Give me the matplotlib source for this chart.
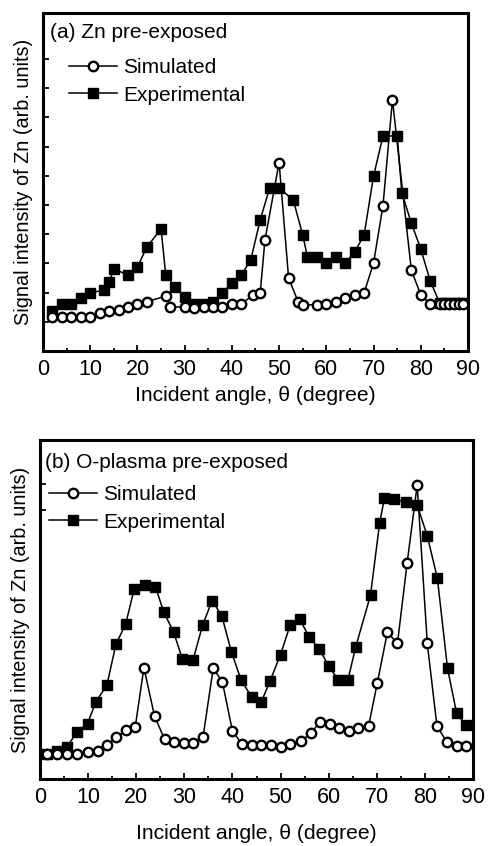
import matplotlib
matplotlib.use("Agg")
import matplotlib.pyplot as plt
from matplotlib.ticker import MultipleLocator, NullFormatter

plt.rcParams['font.family'] = ['Liberation Sans', 'DejaVu Sans']

# (a) Zn pre-exposed
sim_a_x = [2, 4, 6, 8, 10, 12, 14, 16, 18, 20, 22, 26, 27, 30, 32, 34, 36, 38, 40, 42,
           44.5, 46, 47, 50, 52, 54, 55, 58, 60, 62, 64, 66, 68, 70, 72, 74, 78, 80, 82,
           84, 85, 86, 87, 88, 89]
sim_a_y = [1.17, 1.17, 1.17, 1.17, 1.17, 1.29, 1.38, 1.40, 1.51, 1.61, 1.69, 1.88, 1.51,
           1.51, 1.47, 1.51, 1.52, 1.52, 1.61, 1.61, 1.92, 1.99, 3.80, 6.45, 2.51, 1.69,
           1.58, 1.58, 1.61, 1.69, 1.82, 1.92, 1.99, 3.01, 4.98, 8.60, 2.77, 1.92, 1.61,
           1.61, 1.61, 1.61, 1.61, 1.61, 1.61]
exp_a_x = [2, 4, 6, 8, 10, 13, 14, 15, 18, 20, 22, 25, 26, 28, 30, 32, 34, 36, 38, 40,
           42, 44, 46, 48, 50, 53, 55, 56, 58, 60, 62, 64, 66, 68, 70, 72, 75, 76, 78,
           80, 82, 84, 85, 86, 87, 88, 89]
exp_a_y = [1.38, 1.61, 1.61, 1.82, 1.99, 2.09, 2.36, 2.81, 2.60, 2.88, 3.56, 4.18, 2.60,
           2.19, 1.85, 1.61, 1.61, 1.68, 1.99, 2.33, 2.60, 3.12, 4.49, 5.58, 5.58, 5.17,
           3.97, 3.22, 3.22, 3.01, 3.22, 3.01, 3.39, 3.97, 5.99, 7.36, 7.36, 5.41, 4.38,
           3.49, 2.40, 1.64, 1.64, 1.64, 1.64, 1.64, 1.64]

# (b) O-plasma pre-exposed
sim_b_x = [1.5, 3.6, 5.6, 7.7, 9.9, 12, 13.9, 15.9, 17.9, 19.8, 21.6, 23.8, 25.9, 27.8,
           29.9, 31.9, 33.9, 36, 37.9, 40, 42, 44, 46, 48, 50, 52, 54.2, 56.3, 58.1, 60.2,
           62.1, 64.2, 66.2, 68.3, 70.1, 72.2, 74.3, 76.3, 78.4, 80.5, 82.5, 84.6, 86.6,
           88.5]
sim_b_y = [0.30, 0.30, 0.30, 0.32, 0.38, 0.41, 0.60, 0.86, 1.10, 1.21, 3.18, 1.57, 0.79,
           0.71, 0.68, 0.68, 0.88, 3.16, 2.71, 1.07, 0.63, 0.60, 0.60, 0.60, 0.54, 0.63,
           0.73, 0.99, 1.36, 1.32, 1.16, 1.07, 1.16, 1.24, 2.66, 4.36, 3.99, 6.66, 9.27,
           3.99, 1.24, 0.69, 0.58, 0.58]
exp_b_x = [1.5, 3.6, 5.6, 7.7, 9.9, 11.6, 13.9, 15.8, 17.8, 19.6, 21.9, 24, 25.7, 27.8,
           29.6, 31.8, 33.8, 35.8, 37.8, 39.8, 41.8, 44, 46, 47.8, 50, 52, 54, 56, 58, 60,
           62, 64, 65.6, 68.7, 70.6, 71.6, 73.6, 76, 78.4, 80.5, 82.6, 84.7, 86.6, 88.5]
exp_b_y = [0.32, 0.41, 0.54, 1.04, 1.32, 2.04, 2.60, 3.97, 4.63, 5.82, 5.93, 5.88, 5.04,
           4.36, 3.46, 3.43, 4.60, 5.42, 4.90, 3.70, 2.77, 2.20, 2.04, 2.73, 3.62, 4.60,
           4.79, 4.19, 3.82, 3.24, 2.77, 2.77, 3.86, 5.60, 8.01, 8.84, 8.79, 8.71, 8.60,
           7.57, 6.16, 3.16, 1.66, 1.27]

W, H = 489, 846
# title, data, axes box in pixels (left, top, right, bottom), y-limits, y ticks,
# title y (px below top), legend x, x-label pad
panels = [
    ("(a) Zn pre-exposed", sim_a_x, sim_a_y, exp_a_x, exp_a_y,
     (43, 13, 468, 351), (0, 11.57), range(1, 11), 19, 0.016, 0.061, 4),
    ("(b) O-plasma pre-exposed", sim_b_x, sim_b_y, exp_b_x, exp_b_y,
     (40, 440, 473, 779), (-0.53, 10.77), [8.45, 9.3], 22, 0.012, 0.021, 11),
]

fig = plt.figure(figsize=(W / 100, H / 100), dpi=100)

for title, sx, sy, ex, ey, box, ylim, yt, ty, tx, lx, xpad in panels:
    l, t, r, b = box
    ph = b - t
    ax = fig.add_axes([l / W, 1 - b / H, (r - l) / W, ph / H])
    ax.plot(sx, sy, '-', color='black', lw=1.1, marker='o', ms=6.8,
            mfc='white', mec='black', mew=1.7, label='Simulated', zorder=3)
    ax.plot(ex, ey, '-', color='black', lw=1.1, marker='s', ms=6.5,
            mfc='black', mec='black', label='Experimental', zorder=2)
    ax.set_xlim(0, 90)
    ax.set_ylim(*ylim)
    ax.xaxis.set_major_locator(MultipleLocator(10))
    ax.xaxis.set_minor_locator(MultipleLocator(5))
    ax.set_yticks(list(yt))
    ax.yaxis.set_major_formatter(NullFormatter())
    ax.tick_params(axis='x', which='major', direction='in', length=4.5, width=1.3,
                   labelsize=15.5, pad=6, top=False)
    ax.tick_params(axis='x', which='minor', direction='in', length=2.5, width=1.3,
                   top=False)
    ax.tick_params(axis='y', which='major', direction='in', length=4, width=1.3,
                   right=False)
    for s in ax.spines.values():
        s.set_linewidth(2.2)
    ax.set_xlabel(u"Incident angle, \u03b8 (degree)", fontsize=15.2, labelpad=xpad)
    ax.set_ylabel("Signal intensity of Zn (arb. units)", fontsize=14.3, labelpad=4)

    ax.text(tx, 1 - ty / ph, title, transform=ax.transAxes, fontsize=15,
            ha='left', va='center')
    ax.legend(loc='upper left', bbox_to_anchor=(lx, 1 - 45 / ph), frameon=False,
              fontsize=15, handlelength=2.3, handletextpad=0.3,
              labelspacing=0.42, borderaxespad=0, borderpad=0)

fig.savefig("out.png", dpi=100)
